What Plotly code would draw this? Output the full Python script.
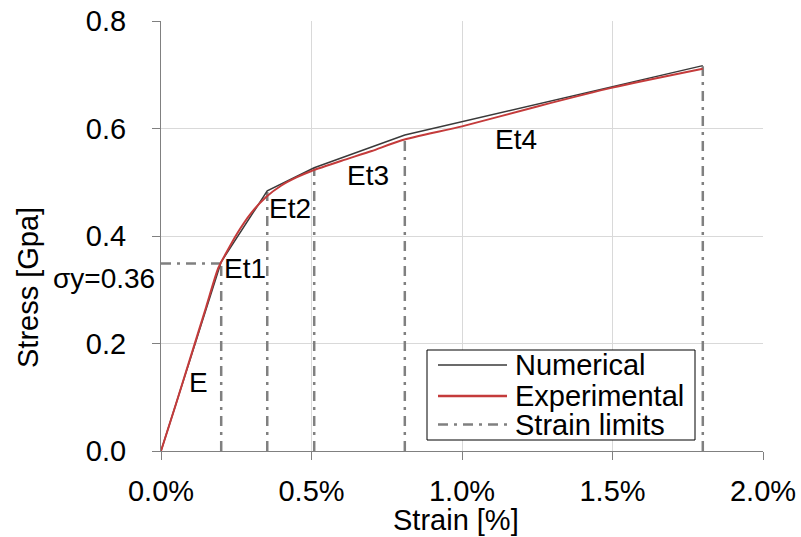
import plotly.graph_objects as go

# Data (strain in %, stress in GPa)
num_strain = [0.0, 0.2, 0.353, 0.509, 0.81, 1.8]
num_stress = [0.0, 0.352, 0.484, 0.527, 0.588, 0.717]

exp_strain = [0.0, 0.05, 0.1, 0.15, 0.19, 0.22, 0.25, 0.3, 0.35, 0.4, 0.45, 0.5,
              0.6, 0.7, 0.8, 1.0, 1.25, 1.5, 1.8]
exp_stress = [0.0, 0.088, 0.178, 0.268, 0.340, 0.372, 0.402, 0.443, 0.473, 0.494,
              0.509, 0.521, 0.540, 0.558, 0.578, 0.604, 0.641, 0.676, 0.711]

limit_strain = [0.2, 0.353, 0.509, 0.81, 1.8]
limit_stress = [0.349, 0.482, 0.526, 0.588, 0.716]
sigma_y = 0.349

labels = ["E", "Et1", "Et2", "Et3", "Et4"]
label_x = [0.123, 0.279, 0.429, 0.688, 1.179]
label_y = [0.127, 0.340, 0.452, 0.513, 0.579]

x_ticks = [0.0, 0.5, 1.0, 1.5, 2.0]
x_tick_text = ["0.0%", "0.5%", "1.0%", "1.5%", "2.0%"]
y_ticks = [0.0, 0.2, 0.4, 0.6, 0.8]
y_tick_text = ["0.0", "0.2", "0.4", "0.6", "0.8"]

legend_names = ["Numerical", "Experimental", "Strain limits"]

FONT = "Liberation Sans, Arial, sans-serif"
FS = 29
LIM_COLOR = "#808080"
LIM_DASH = "10px,6px,3px,6px"
NUM_COLOR = "#3a3a3a"
EXP_COLOR = "#c43b3b"

# plot-area pixel geometry
L, R, T, B = 161, 763, 21, 451
W, H = 801, 537


def px(xp):
    return (xp - L) / (R - L)


def py(yp):
    return (B - yp) / (B - T)


fig = go.Figure()

lx, ly = [], []
for xs, ys in zip(limit_strain, limit_stress):
    lx += [xs, xs, None]
    ly += [0, ys, None]
lx += [0, limit_strain[0], None]
ly += [sigma_y, sigma_y, None]

fig.add_trace(go.Scatter(x=lx, y=ly, mode="lines", name=legend_names[2],
                         line=dict(color=LIM_COLOR, width=2.5, dash=LIM_DASH)))
fig.add_trace(go.Scatter(x=num_strain, y=num_stress, mode="lines", name=legend_names[0],
                         line=dict(color=NUM_COLOR, width=1.5)))
fig.add_trace(go.Scatter(x=exp_strain, y=exp_stress, mode="lines", name=legend_names[1],
                         line=dict(color=EXP_COLOR, width=2, shape="spline", smoothing=0.6)))

for t, x, y in zip(labels, label_x, label_y):
    fig.add_annotation(x=x, y=y, text=t, showarrow=False,
                       font=dict(family=FONT, size=FS - 1, color="#000"))

fig.add_annotation(xref="paper", yref="paper", x=0, y=py(278), xshift=-4,
                   xanchor="right", yanchor="middle", text="σy=0.36", showarrow=False,
                   font=dict(family=FONT, size=FS - 1, color="#000"))
fig.add_annotation(xref="paper", yref="paper", x=px(28), y=py(288), textangle=-90,
                   xanchor="center", yanchor="middle",
                   text="Stress [Gpa]", showarrow=False,
                   font=dict(family=FONT, size=FS, color="#000"))
fig.add_annotation(xref="paper", yref="paper", x=px(456), y=py(520),
                   xanchor="center", yanchor="middle",
                   text="Strain [%]", showarrow=False,
                   font=dict(family=FONT, size=FS, color="#000"))

# custom legend box
shapes = [dict(type="rect", xref="paper", yref="paper",
               x0=px(427), x1=px(695), y0=py(440), y1=py(350),
               line=dict(color="#000", width=1), fillcolor="white", layer="above")]
row_y = [365, 396, 424.5]
row_style = [(NUM_COLOR, 1.5, "solid"), (EXP_COLOR, 2.5, "solid"), (LIM_COLOR, 2.5, LIM_DASH)]
for name, yy, (c, w, d) in zip(legend_names, row_y, row_style):
    shapes.append(dict(type="line", xref="paper", yref="paper",
                       x0=px(438), x1=px(507), y0=py(yy), y1=py(yy),
                       line=dict(color=c, width=w, dash=d), layer="above"))
    fig.add_annotation(xref="paper", yref="paper", x=px(513), y=py(yy),
                       xanchor="left", yanchor="middle", text=name, showarrow=False,
                       font=dict(family=FONT, size=FS, color="#000"))

fig.update_xaxes(range=[0, 2.0], tickvals=x_ticks, ticktext=x_tick_text,
                 showgrid=True, gridcolor="#d9d9d9", gridwidth=1,
                 showline=True, linecolor="#808080", linewidth=1,
                 ticks="outside", ticklen=8, tickcolor="#808080",
                 ticklabelstandoff=6, automargin=False,
                 tickfont=dict(family=FONT, size=FS, color="#000"),
                 zeroline=False)
fig.update_yaxes(range=[0, 0.8], tickvals=y_ticks, ticktext=y_tick_text,
                 showgrid=True, gridcolor="#d9d9d9", gridwidth=1,
                 showline=True, linecolor="#808080", linewidth=1,
                 ticks="outside", ticklen=8, tickcolor="#808080",
                 ticklabelstandoff=20, automargin=False,
                 tickfont=dict(family=FONT, size=FS, color="#000"),
                 zeroline=False)

fig.update_layout(
    width=W, height=H,
    margin=dict(l=L, r=W - R, t=T, b=H - B, autoexpand=False),
    plot_bgcolor="white", paper_bgcolor="white",
    font=dict(family=FONT, size=FS, color="#000"),
    shapes=shapes,
    showlegend=False,
)

fig.write_html("out.html")
